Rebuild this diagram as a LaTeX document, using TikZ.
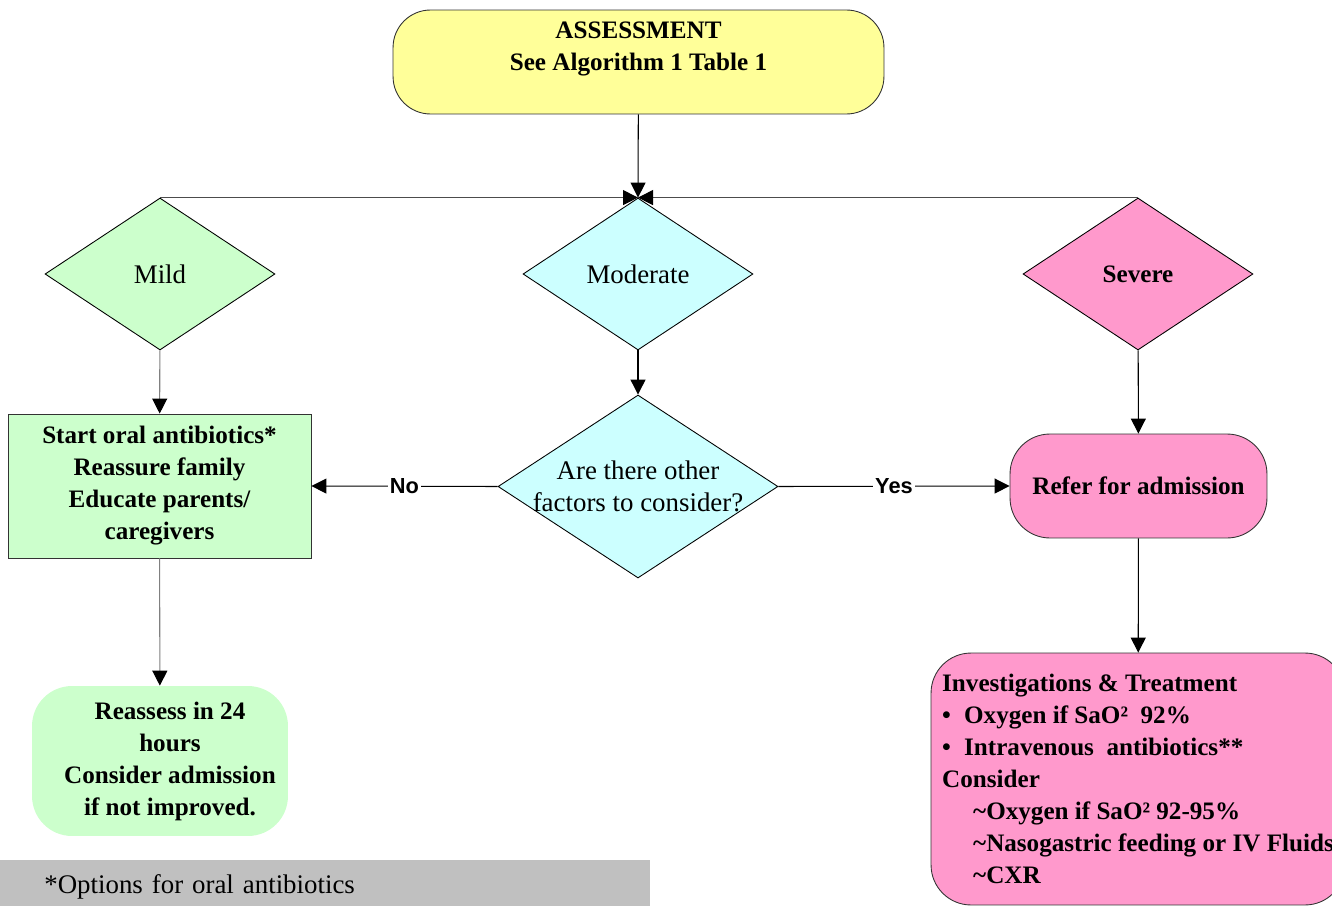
\documentclass[tikz,border=0pt]{standalone}
\usepackage{fontspec}
\setmainfont{Liberation Serif}
\newfontfamily\yesnofont{Liberation Sans}
\usetikzlibrary{shapes.geometric,arrows.meta}
\definecolor{assessyellow}{HTML}{FFFF99}
\definecolor{mildgreen}{HTML}{CCFFCC}
\definecolor{modcyan}{HTML}{CCFFFF}
\definecolor{sevpink}{HTML}{FF99CC}
\definecolor{footgray}{HTML}{C0C0C0}

\begin{document}
\begin{tikzpicture}[x=0.02cm, y=0.02cm]
	\tikzstyle{every node}+=[inner sep=0pt, align=center]
	\tikzstyle{boldtext}=[font=\fontsize{14.3}{18.2}\selectfont\bfseries]
	\tikzstyle{plaintext}=[font=\fontsize{15.3}{18.2}\selectfont]
	\tikzstyle{decision}=[diamond, draw=black, line width=0.5pt, minimum width=4.6cm, minimum height=3.04cm]
	\tikzstyle{roundbox}=[rectangle, rounded corners=0.75cm, draw=black!80, line width=0.5pt]
	\tikzstyle{arr}=[line width=0.6pt, -{Triangle[length=0.3cm,width=0.3cm,color=black]}]
	\tikzstyle{yesno}=[fill=white, inner xsep=1pt, font=\yesnofont\fontsize{12.4}{14}\selectfont\bfseries]
	\useasboundingbox (0,0) rectangle (1332,-906);
	% top of the chart
	\node [roundbox, boldtext, fill=assessyellow, minimum width=9.82cm, minimum height=2.08cm] (assess) at (638.5,-62)
		{ASSESSMENT\\See Algorithm 1 Table 1\\\mbox{}};
	\node [decision, plaintext, fill=mildgreen] (mild) at (160,-274) {Mild};
	\node [decision, plaintext, fill=modcyan] (mod) at (638,-274) {Moderate};
	\node [decision, boldtext, fill=sevpink] (sev) at (1138,-274) {Severe};
	\draw [arr] (assess) -- (mod.north);
	\draw [arr, black!70] (mild.north) -- (mod.north);
	\draw [arr, black!70] (sev.north) -- (mod.north);
	% middle row
	\node [decision, fill=modcyan, minimum width=5.6cm, minimum height=3.66cm,
		label={[plaintext, align=center]center:{Are there other\\factors to consider?}}] (quest) at (638,-486.5) {};
	\node [rectangle, draw=black!80, line width=0.5pt, boldtext, fill=mildgreen, minimum width=6.06cm, minimum height=2.88cm] (start) at (159.5,-486)
		{Start oral antibiotics*\\Reassure family\\Educate parents/\\caregivers};
	\node [roundbox, boldtext, fill=sevpink, minimum width=5.14cm, minimum height=2.08cm, rounded corners=0.8cm] (refer) at (1138.5,-486) {Refer for admission};
	\draw [arr, black!50] (mild) -- (start);
	\draw [arr] (mod) -- (quest);
	\draw [arr] (sev) -- (refer);
	\draw [arr] (quest.west) -- node [yesno] {No} (start.east);
	\draw [arr] (quest.east) -- node [yesno] {Yes} (refer.west);
	% bottom row
	\node [rectangle, rounded corners=0.8cm, boldtext, fill=mildgreen, minimum width=5.12cm, minimum height=3cm] (reass) at (160,-761)
		{\hspace*{0.4cm}Reassess in 24\\\hspace*{0.4cm}hours\\\hspace*{0.4cm}Consider admission\\\hspace*{0.4cm}if not improved.};
	\node [roundbox, boldtext, fill=sevpink, minimum width=8.28cm, minimum height=5.04cm, rounded corners=0.8cm, align=left] (invest) at (1138,-779)
		{Investigations \& Treatment\\
		\makebox[0.44cm][l]{•}Oxygen if SaO²\ \ 92\%\\
		\makebox[0.44cm][l]{•}Intravenous\ \ antibiotics**\\
		Consider\\
		\hspace*{0.62cm}\textasciitilde Oxygen if SaO² 92-95\%\\
		\hspace*{0.62cm}\textasciitilde Nasogastric feeding or IV Fluids\\
		\hspace*{0.62cm}\textasciitilde CXR};
	\draw [arr, black!50] (start) -- (reass);
	\draw [arr] (refer) -- (invest);
	% footnote
	\node [rectangle, fill=footgray, anchor=north west, minimum width=13cm, minimum height=1.08cm, text width=11.24cm, align=left, plaintext] (foot) at (0,-860)
		{*Options for oral antibiotics};
\end{tikzpicture}
\end{document}
